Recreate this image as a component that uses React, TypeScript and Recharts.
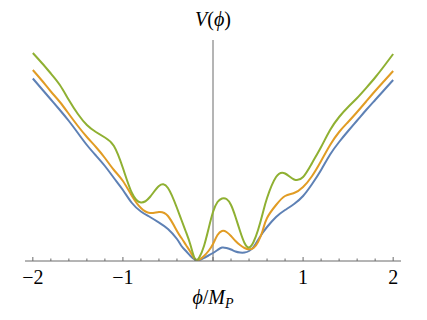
import { LineChart, Line, XAxis, YAxis, ReferenceLine, Label } from "recharts";

// field values, phi in units of M_P
const PHI = [
  -2.0, -1.9, -1.8, -1.7, -1.6, -1.5, -1.4, -1.3, -1.2, -1.1, -1.0, -0.9, -0.8, -0.7, -0.6, -0.5,
  -0.4, -0.35, -0.3, -0.25, -0.2, -0.15, -0.1, -0.05, 0.0, 0.05, 0.1, 0.15, 0.2, 0.25, 0.3, 0.35,
  0.4, 0.45, 0.5, 0.55, 0.6, 0.7, 0.8, 0.9, 1.0, 1.1, 1.2, 1.3, 1.4, 1.5, 1.6, 1.7, 1.8, 1.9, 2.0,
];

const V_BLUE = [
  1.825, 1.72, 1.615, 1.51, 1.4, 1.28, 1.16, 1.055, 0.95, 0.83, 0.71, 0.58, 0.495, 0.44, 0.385, 0.32,
  0.22, 0.15, 0.1, 0.05, 0.015, 0.01, 0.03, 0.055, 0.08, 0.11, 0.135, 0.13, 0.115, 0.095, 0.085, 0.085,
  0.1, 0.14, 0.21, 0.28, 0.34, 0.44, 0.51, 0.57, 0.65, 0.77, 0.91, 1.065, 1.19, 1.3, 1.405, 1.51, 1.61, 1.71, 1.81,
];

const V_ORANGE = [
  1.91, 1.805, 1.695, 1.59, 1.47, 1.35, 1.24, 1.14, 1.03, 0.91, 0.8, 0.65, 0.53, 0.48, 0.49, 0.45,
  0.3, 0.23, 0.16, 0.09, 0.02, 0.015, 0.05, 0.1, 0.17, 0.26, 0.3, 0.29, 0.25, 0.2, 0.16, 0.13,
  0.117, 0.13, 0.19, 0.3, 0.43, 0.56, 0.65, 0.68, 0.74, 0.85, 1.0, 1.16, 1.29, 1.39, 1.49, 1.595, 1.7, 1.8, 1.9,
];

const V_GREEN = [
  2.08, 1.98, 1.875, 1.76, 1.61, 1.47, 1.36, 1.29, 1.235, 1.15, 0.93, 0.68, 0.585, 0.64, 0.75, 0.73,
  0.53, 0.41, 0.29, 0.16, 0.02, 0.04, 0.15, 0.32, 0.49, 0.59, 0.625, 0.62, 0.56, 0.44, 0.3, 0.18,
  0.135, 0.19, 0.31, 0.47, 0.63, 0.84, 0.875, 0.815, 0.84, 0.98, 1.14, 1.31, 1.44, 1.54, 1.63, 1.73, 1.835, 1.95, 2.07,
];

const MAJOR_TICKS = [-2, -1, 0, 1, 2];
const X_TICKS = [
  -2, -1.8, -1.6, -1.4, -1.2, -1, -0.8, -0.6, -0.4, -0.2, 0, 0.2, 0.4, 0.6, 0.8, 1, 1.2, 1.4, 1.6, 1.8, 2,
];

const data = PHI.map((phi, i) => ({
  phi,
  blue: V_BLUE[i],
  orange: V_ORANGE[i],
  green: V_GREEN[i],
}));

const SERIF = "Liberation Serif";
const AXIS_COLOR = "#6b6b6b";

const AxisTick = (props: any) => {
  const { x, y, payload } = props;
  const v = payload.value;
  const major = MAJOR_TICKS.includes(v);
  return (
    <g>
      <line x1={x} x2={x} y1={y} y2={y - (major ? 4 : 2.5)} stroke={AXIS_COLOR} strokeWidth={1} />
      {major && v !== 0 && (
        <text x={x} y={y + 23} textAnchor="middle" fontFamily={SERIF} fontSize={20} fill="#000">
          {v < 0 ? `\u2212${-v}` : String(v)}
        </text>
      )}
    </g>
  );
};

const XLabel = (props: any) => {
  const { viewBox } = props;
  const cx = viewBox.x + viewBox.width / 2;
  return (
    <text x={cx} y={viewBox.y + 43} textAnchor="middle" fontFamily={SERIF} fontSize={20} fill="#000">
      <tspan fontStyle="italic">ϕ</tspan>
      <tspan>/</tspan>
      <tspan fontStyle="italic">M</tspan>
      <tspan fontStyle="italic" fontSize={14} dy={4}>P</tspan>
    </text>
  );
};

const VLabel = (props: any) => {
  const { viewBox } = props;
  return (
    <text x={viewBox.x} y={26} textAnchor="middle" fontFamily={SERIF} fontSize={20} fill="#000">
      <tspan fontStyle="italic">V</tspan>
      <tspan>(</tspan>
      <tspan fontStyle="italic">ϕ</tspan>
      <tspan>)</tspan>
    </text>
  );
};

export default function App() {
  return (
    <div style={{ position: "absolute", left: 0, top: 0, width: 427, height: 320, background: "#fff" }}>
      <LineChart width={427} height={320} data={data} margin={{ top: 40, right: 26, bottom: 0, left: 25 }}>
        <XAxis
          dataKey="phi"
          type="number"
          domain={[-2.087, 2.087]}
          allowDataOverflow
          ticks={X_TICKS}
          interval={0}
          height={59}
          tickSize={0}
          tickMargin={0}
          tickLine={false}
          tick={<AxisTick />}
          axisLine={{ stroke: AXIS_COLOR, strokeWidth: 1 }}
        >
          <Label content={<XLabel />} />
        </XAxis>
        <YAxis hide type="number" domain={[0, 2.21]} allowDataOverflow />
        <ReferenceLine x={0} stroke={AXIS_COLOR} strokeWidth={1} label={<VLabel />} />
        <Line dataKey="blue" type="natural" stroke="#5E81B5" strokeWidth={2} dot={false} isAnimationActive={false} />
        <Line dataKey="orange" type="natural" stroke="#E19C24" strokeWidth={2} dot={false} isAnimationActive={false} />
        <Line dataKey="green" type="natural" stroke="#8FB032" strokeWidth={2} dot={false} isAnimationActive={false} />
      </LineChart>
    </div>
  );
}
